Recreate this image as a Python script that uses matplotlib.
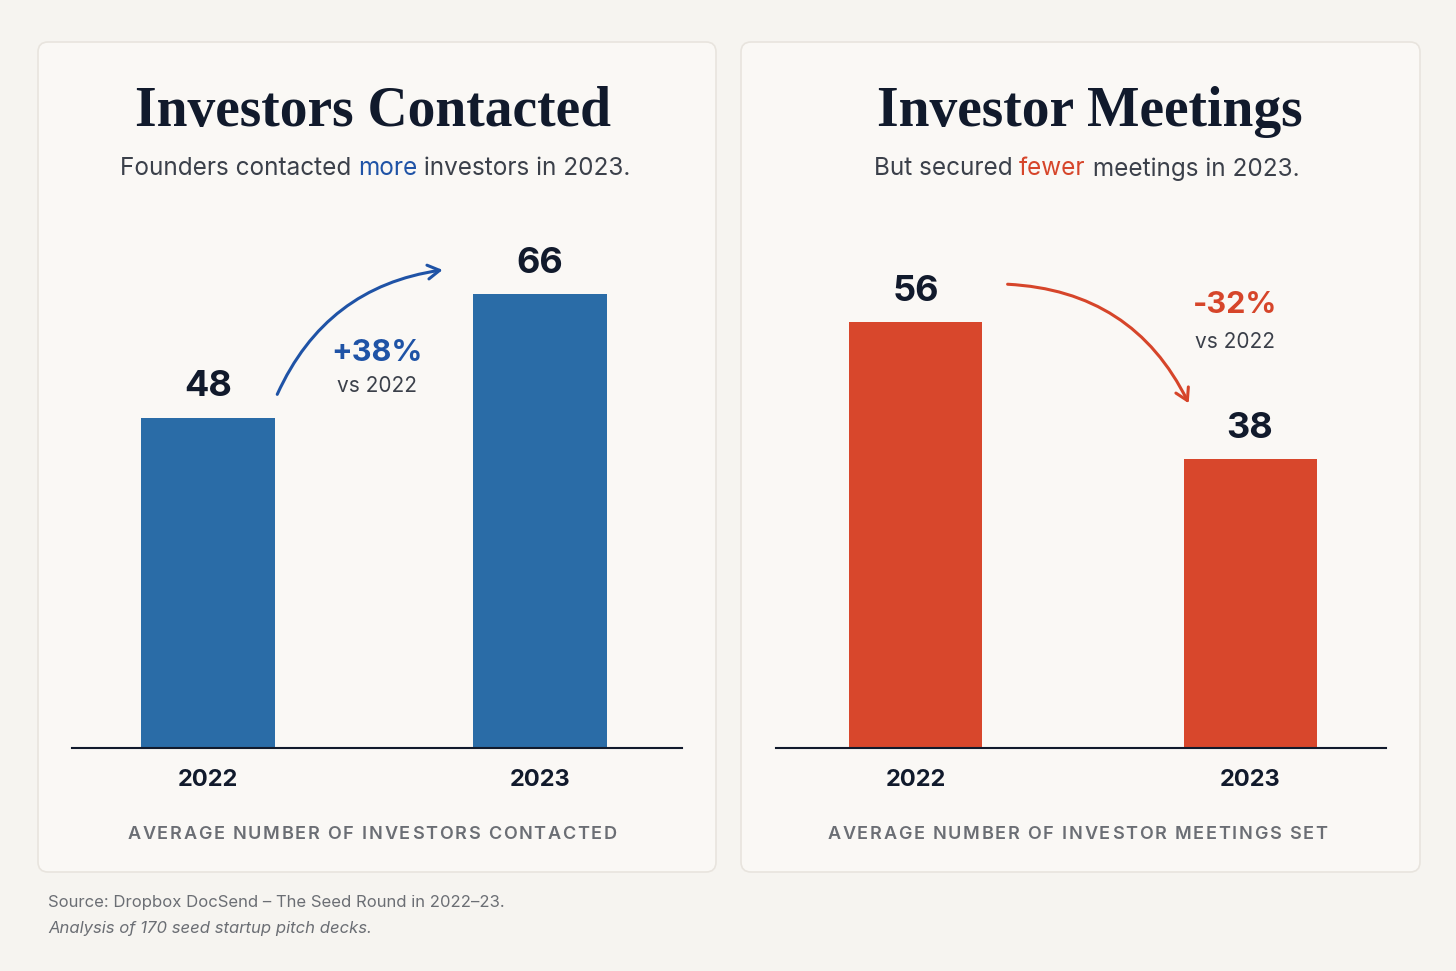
import matplotlib.pyplot as plt
from matplotlib.patches import FancyBboxPatch

# Données (Dropbox DocSend - The Seed Round in 2022-23)
years = ['2022', '2023']
investors_contacted = [48, 66]
investor_meetings = [56, 38]

titles = ['Investors Contacted', 'Investor Meetings']
subtitles = [
    [('Founders contacted ', 'base'), ('more', 'accent'), (' investors in 2023.', 'base')],
    [('But secured ', 'base'), ('fewer', 'accent'), (' meetings in 2023.', 'base')],
]
captions = ['AVERAGE NUMBER OF INVESTORS CONTACTED', 'AVERAGE NUMBER OF INVESTOR MEETINGS SET']

# Couleurs
BG = '#f6f4f0'
PANEL = '#faf8f5'
EDGE = '#e8e4de'
NAVY = '#111a2c'
GREY = '#3b404a'
CAPTION = '#6b6e74'
BLUE_BAR = '#2a6ca7'
BLUE_TXT = '#1f53a6'
RED_BAR = '#d8472c'
RED_TXT = '#d6452a'

SERIF = 'Liberation Serif'
SANS = 'Inter'

plt.rcParams['font.family'] = [SANS, 'DejaVu Sans']

fig = plt.figure(figsize=(14.56, 9.71), dpi=100, facecolor=BG)

# Cadres des deux panneaux (en pouces)
for x0, w in [(0.38, 6.78), (7.41, 6.79)]:
    fig.patches.append(FancyBboxPatch((x0, 0.99), w, 8.30,
                                      boxstyle='round,pad=0,rounding_size=0.1',
                                      transform=fig.dpi_scale_trans,
                                      fc=PANEL, ec=EDGE, lw=1.2, zorder=-1))

renderer = fig.canvas.get_renderer()


def prefix_offsets(ax, pieces, **kw):
    # largeur de chaque préfixe (le '|' garde les espaces de fin)
    probe = ax.text(0, 0, '|', transform=ax.transAxes, **kw)
    wbar = probe.get_window_extent(renderer).width
    offs = []
    acc = ''
    for s in pieces:
        if acc:
            probe.set_text(acc + '|')
            offs.append(probe.get_window_extent(renderer).width - wbar)
        else:
            offs.append(0)
        acc += s
    probe.set_text(acc)
    total = probe.get_window_extent(renderer).width
    probe.remove()
    return offs, total


def colored_line(ax, xc, y, parts, colors, **kw):
    # texte multicolore centré
    offs, total = prefix_offsets(ax, [s for s, _ in parts], **kw)
    bb = ax.get_window_extent(renderer)
    start = bb.x0 + xc * bb.width - total / 2
    for (s, key), off in zip(parts, offs):
        ax.text((start + off - bb.x0) / bb.width, y, s, color=colors[key],
                transform=ax.transAxes, ha='left', va='center', **kw)


def tracked_text(ax, xc, y, s, track, **kw):
    # texte avec espacement des lettres (en pixels)
    offs, total = prefix_offsets(ax, list(s), **kw)
    total += track * (len(s) - 1)
    bb = ax.get_window_extent(renderer)
    start = bb.x0 + xc * bb.width - total / 2
    for i, (ch, off) in enumerate(zip(s, offs)):
        ax.text((start + off + i * track - bb.x0) / bb.width, y, ch,
                transform=ax.transAxes, ha='left', va='center', **kw)


panels = [
    dict(vals=investors_contacted, bar=BLUE_BAR, txt=BLUE_TXT, left=72, xlim=(-0.410, 1.428),
         width=0.404, ytop=79.6, rad=-0.28, arrow=((0.205, 3.0), (0.715, 3.5)),
         pct_pos=(0.51, 0.4), title_x=0.494, sub_x=0.497, cap_x=0.492),
    dict(vals=investor_meetings, bar=RED_BAR, txt=RED_TXT, left=776, xlim=(-0.419, 1.407),
         width=0.398, ytop=72.06, rad=-0.3, arrow=((0.266, 5.0), (0.82, 7.0)),
         pct_pos=(0.955, -0.3), title_x=0.515, sub_x=0.509, cap_x=0.494),
]

for k, p in enumerate(panels):
    ax = fig.add_axes([p['left'] / 1456, 223 / 971, 610 / 1456, 548 / 971])
    ax.set_facecolor('none')
    vals = p['vals']
    ax.bar(range(len(years)), vals, width=p['width'], color=p['bar'], zorder=2)
    ax.set_xlim(*p['xlim'])
    ax.set_ylim(0, p['ytop'])
    for s in ['top', 'left', 'right']:
        ax.spines[s].set_visible(False)
    ax.spines['bottom'].set_color(NAVY)
    ax.spines['bottom'].set_linewidth(1.5)
    ax.set_yticks([])
    ax.set_xticks(range(len(years)), years)
    ax.tick_params(axis='x', length=0, pad=15, labelsize=17, labelcolor=NAVY)
    for lbl in ax.get_xticklabels():
        lbl.set_fontweight('bold')

    for i, v in enumerate(vals):
        ax.annotate(str(v), (i, v), xytext=(0, 22), textcoords='offset points',
                    ha='center', va='center', fontsize=26, fontweight='bold', color=NAVY)

    # flèche courbe
    (x0, dy0), (x1, dy1) = p['arrow']
    ax.annotate('', xy=(x1, vals[1] + dy1), xytext=(x0, vals[0] + dy0),
                arrowprops=dict(arrowstyle='->,head_length=0.85,head_width=0.5',
                                color=p['txt'], lw=2.2,
                                connectionstyle=f"arc3,rad={p['rad']}"))

    change = round((vals[1] - vals[0]) / vals[0] * 100)
    px, py = p['pct_pos']
    ymid = (vals[0] + vals[1]) / 2 if k == 0 else vals[0] + 2.5
    ax.text(px, ymid + py, f'{change:+d}%', ha='center', va='center',
            fontsize=22, fontweight='bold', color=p['txt'])
    ax.text(px, ymid + py - 4.8, 'vs 2022', ha='center', va='center',
            fontsize=15, color=GREY)

    ax.text(p['title_x'], 1.160, titles[k], transform=ax.transAxes, ha='center', va='center',
            fontsize=40, fontweight='bold', color=NAVY, family=SERIF)
    colored_line(ax, p['sub_x'], 1.057, subtitles[k], {'base': GREY, 'accent': p['txt']},
                 fontsize=17.5)
    tracked_text(ax, p['cap_x'], -0.157, captions[k], 1.75,
                 fontsize=13, fontweight='semibold', color=CAPTION)

fig.text(48 / 1456, 1 - 902 / 971, 'Source: Dropbox DocSend – The Seed Round in 2022–23.',
         ha='left', va='center', fontsize=12, color=CAPTION)
fig.text(48 / 1456, 1 - 928 / 971, 'Analysis of 170 seed startup pitch decks.',
         ha='left', va='center', fontsize=12, color=CAPTION, style='italic')

fig.savefig('out.png', dpi=100, facecolor=BG)
